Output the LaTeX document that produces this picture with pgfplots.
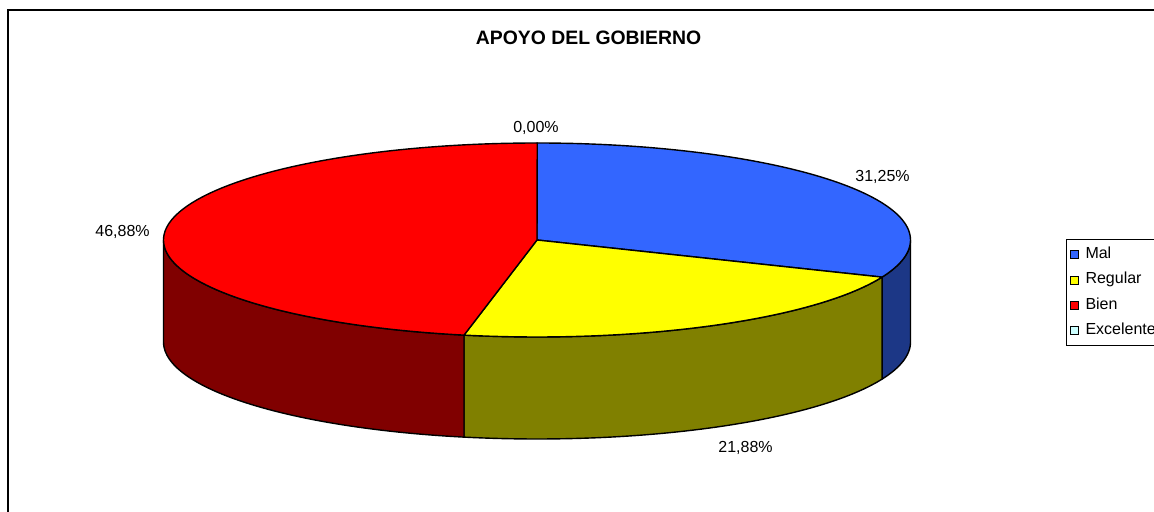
\documentclass[border=0pt]{standalone}
\usepackage{fontspec}
\setmainfont{Liberation Sans}
\usepackage{pgfplots}
\usepackage{pgfplotstable}
\pgfplotsset{compat=1.18}

\definecolor{cMal}{HTML}{3366FF}
\definecolor{cMalD}{HTML}{1C3786}
\definecolor{cReg}{HTML}{FFFF00}
\definecolor{cRegD}{HTML}{808000}
\definecolor{cBien}{HTML}{FF0000}
\definecolor{cBienD}{HTML}{800000}
\definecolor{cExc}{HTML}{CCFFFF}

\pgfplotstableread{
label value
Mal 31.25
Regular 21.88
Bien 46.88
Excelente 0.00
}\piedata

\begin{document}
\begin{tikzpicture}
\useasboundingbox (0,0) rectangle (577pt,256pt);
\pgfplotstablegetelem{0}{value}\of\piedata \let\vMal\pgfplotsretval
\pgfplotstablegetelem{1}{value}\of\piedata \let\vReg\pgfplotsretval
\pgfplotstablegetelem{2}{value}\of\piedata \let\vBien\pgfplotsretval
\pgfplotstablegetelem{3}{value}\of\piedata \let\vExc\pgfplotsretval
\pgfmathsetmacro\aA{90}
\pgfmathsetmacro\aB{\aA-3.6*\vMal}
\pgfmathsetmacro\aC{\aB-3.6*\vReg}
\pgfmathsetmacro\aD{\aC-3.6*\vBien}
\begin{axis}[
  at={(0,0)}, anchor=south west,
  scale only axis, width=577pt, height=256pt,
  xmin=0, xmax=1154, ymin=-512, ymax=0,
  hide axis, clip=false,
  legend style={at={(0.92374,0.5332)}, anchor=north west, draw=black, line width=0.6pt,
    fill=white, font=\fontsize{8}{9.6}\selectfont, inner xsep=1.5pt, inner ysep=2.6pt, row sep=2.6pt,
    column sep=2.5pt,
    nodes={inner sep=1pt, text height=6pt, text depth=2pt}},
  legend cell align=left,
  legend image code/.code={\draw[#1, line width=0.45pt] (1pt,-2pt) rectangle (5pt,2pt);},
]
% frame
\draw[black, line width=0.9pt] (axis cs:8,-540) -- (axis cs:8,-10) -- (axis cs:1170,-10);
% sides
\filldraw[fill=cMalD, draw=black, line width=0.7pt, line join=round]
  plot[domain=\aB:0, samples=30, variable=\t] ({537+373.5*cos(\t)},{-240+97*sin(\t)})
  -- plot[domain=0:\aB, samples=30, variable=\t] ({537+373.5*cos(\t)},{-342+97*sin(\t)}) -- cycle;
\filldraw[fill=cRegD, draw=black, line width=0.7pt, line join=round]
  plot[domain=\aC:\aB, samples=60, variable=\t] ({537+373.5*cos(\t)},{-240+97*sin(\t)})
  -- plot[domain=\aB:\aC, samples=60, variable=\t] ({537+373.5*cos(\t)},{-342+97*sin(\t)}) -- cycle;
\filldraw[fill=cBienD, draw=black, line width=0.7pt, line join=round]
  plot[domain=-180:\aC, samples=60, variable=\t] ({537+373.5*cos(\t)},{-240+97*sin(\t)})
  -- plot[domain=\aC:-180, samples=60, variable=\t] ({537+373.5*cos(\t)},{-342+97*sin(\t)}) -- cycle;
% tops
\filldraw[fill=cMal, draw=black, line width=0.7pt, line join=round] (axis cs:537,-240)
  -- plot[domain=\aA:\aB, samples=80, variable=\t] ({537+373.5*cos(\t)},{-240+97*sin(\t)}) -- cycle;
\filldraw[fill=cReg, draw=black, line width=0.7pt, line join=round] (axis cs:537,-240)
  -- plot[domain=\aB:\aC, samples=80, variable=\t] ({537+373.5*cos(\t)},{-240+97*sin(\t)}) -- cycle;
\filldraw[fill=cBien, draw=black, line width=0.7pt, line join=round] (axis cs:537,-240)
  -- plot[domain=\aC:\aD, samples=120, variable=\t] ({537+373.5*cos(\t)},{-240+97*sin(\t)}) -- cycle;
% labels
\node[font=\bfseries\fontsize{9.7}{11}\selectfont] at (axis cs:588.5,-38) {APOYO DEL GOBIERNO};
\node[font=\fontsize{8}{9.6}\selectfont] at (axis cs:536,-127.5) {0,00\%};
\node[font=\fontsize{8}{9.6}\selectfont] at (axis cs:882.5,-177) {31,25\%};
\node[font=\fontsize{8}{9.6}\selectfont] at (axis cs:745.5,-447.5) {21,88\%};
\node[font=\fontsize{8}{9.6}\selectfont] at (axis cs:122.5,-232) {46,88\%};
% legend
\addlegendimage{fill=cMal, draw=black}
\addlegendentry{Mal}
\addlegendimage{fill=cReg, draw=black}
\addlegendentry{Regular}
\addlegendimage{fill=cBien, draw=black}
\addlegendentry{Bien}
\addlegendimage{fill=cExc, draw=black}
\addlegendentry{Excelente}
\end{axis}
\end{tikzpicture}
\end{document}
